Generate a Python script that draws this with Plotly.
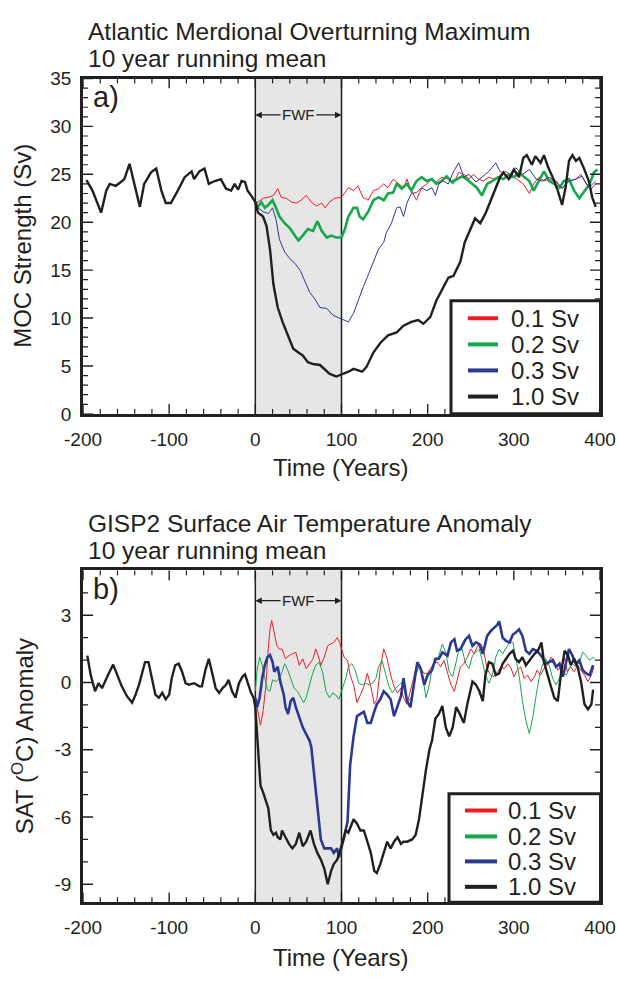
import plotly.graph_objects as go

# ---------------- Panel a: MOC strength (Sv) ----------------
a_black_years = [-196,-189,-179,-173,-169,-162,-156,-152,-146,-141,-134,-129,-121,-115,-109,-104,-98,-90,-82,-74,-71,-65,-59,-54,-47,-40,-34,-28,-24,-20,-16,-12,-9,-5,0,
                 3,9,13,17,21,26,32,38,44,50,55,61,67,75,81,86,94,100,
                 108,114,124,129,137,145,154,164,172,181,189,195,203,210,218,224,230,238,243,251,255,261,267,272,278,284,288,294,300,306,311,315,321,325,331,335,340,346,351,356,360,364,368,372,376,381,387,391,395]
a_black_vals = [24.4,23.3,21.0,23.3,24.0,23.8,24.2,24.5,26.1,24.3,21.6,24.0,25.2,25.6,23.3,22.0,22.0,23.3,24.7,25.3,24.5,25.3,25.6,24.0,24.3,24.5,23.5,23.3,24.0,23.4,24.3,24.2,23.3,22.8,22.1,
                21.0,20.6,19.6,17.2,13.5,11.1,9.5,8.1,6.8,6.4,6.1,5.4,5.2,5.1,4.6,4.2,3.9,4.1,
                4.4,4.7,4.4,4.9,6.4,7.4,8.2,8.5,9.2,9.6,9.8,9.4,10.1,11.8,13.2,14.2,14.4,15.9,17.9,19.6,20.4,19.9,20.9,22.0,23.3,24.7,25.2,24.5,25.5,24.7,26.7,27.0,26.0,26.9,26.2,27.0,25.7,24.5,23.3,21.8,23.6,26.4,27.0,26.4,26.7,25.7,24.3,22.6,21.6]

a_blue_years = [0,3,9,15,20,24,28,34,40,46,52,57,63,69,75,83,90,100,108,114,119,125,131,137,143,149,152,158,164,168,172,176,181,187,193,199,205,209,213,218,224,230,236,242,248,256,263,271,279,284,290,296,302,310,318,326,333,341,349,356,364,372,379,387,395]
a_blue_vals = [22.1,21.5,21.1,20.9,21.5,20.3,18.2,16.9,16.2,15.7,15.0,13.9,12.7,12.0,11.1,11.0,10.3,9.9,9.6,10.5,11.8,13.2,14.5,15.9,17.2,17.9,18.9,19.9,21.5,21.6,20.6,22.0,23.0,23.1,23.6,23.3,23.6,22.8,24.0,24.3,24.0,25.3,26.2,24.7,25.0,24.2,24.7,25.3,26.2,25.3,25.0,24.5,25.7,25.0,25.5,24.5,24.3,24.7,24.3,23.5,24.3,24.5,24.8,23.6,24.3]

a_red_years = [0,3,9,15,21,26,30,36,42,48,53,59,65,71,77,81,86,92,100,108,114,119,125,131,137,143,149,154,160,166,172,176,181,187,193,199,205,210,216,224,230,236,242,248,253,259,265,271,277,283,290,296,304,311,318,323,329,335,341,349,356,364,372,378,384,390,395]
a_red_vals = [22.1,22.1,22.5,22.6,22.8,23.5,22.6,22.5,22.1,22.0,22.3,22.8,22.1,21.7,22.0,21.5,22.1,22.5,22.6,23.6,23.3,23.8,22.6,22.3,23.3,23.5,24.0,23.6,24.5,24.0,23.6,24.5,23.3,22.3,23.6,24.0,24.5,24.2,24.7,24.5,24.0,25.2,25.0,24.5,25.0,24.5,24.3,24.7,24.5,24.8,25.3,25.0,24.5,24.0,23.0,24.0,24.7,24.3,24.5,24.2,23.6,24.3,24.5,25.0,24.0,23.5,24.0]

a_green_years = [0,3,7,11,15,20,24,28,34,40,46,50,55,61,67,72,77,83,88,94,100,104,108,114,118,121,125,131,137,143,149,154,160,164,170,176,181,187,193,199,205,210,216,222,228,234,240,245,251,257,263,269,275,282,288,294,300,306,311,318,323,329,335,341,347,353,358,364,370,376,382,388,393,397]
a_green_vals = [22.1,21.6,22.1,21.5,21.8,22.3,21.5,20.6,19.9,19.4,18.6,18.1,18.6,19.3,19.1,20.1,19.1,18.4,18.6,18.4,18.4,19.3,20.6,21.5,21.5,20.6,20.3,21.1,22.3,22.6,22.3,23.0,23.1,24.0,23.5,24.0,23.3,24.3,24.7,24.3,24.5,24.0,24.3,24.8,24.2,24.5,24.8,24.5,24.0,23.6,22.8,24.0,24.3,24.7,24.5,25.0,24.7,25.2,24.8,24.3,23.3,24.3,25.3,24.3,24.0,23.6,24.3,24.5,23.3,22.5,23.3,24.0,25.2,25.5]

# ---------------- Panel b: SAT anomaly (deg C) ----------------
b_black_years = [-195,-191,-186,-182,-178,-174,-170,-165,-160,-155,-149,-143,-139,-135,-131,-128,-124,-120,-116,-112,-108,-104,-100,-97,-93,-89,-85,-81,-77,-71,-65,-62,-58,-54,-50,-46,-42,-38,-34,-31,-27,-23,-19,-15,-12,-9,-5,-2,0,
                 2,4,6,9,12,15,18,21,24,26,29,31,35,39,43,47,51,55,59,64,68,72,76,80,84,88,91,95,100,
                 105,108,114,118,122,126,130,134,138,141,145,149,153,157,161,165,169,172,176,182,186,190,194,198,202,205,209,213,217,221,225,229,233,236,242,246,252,256,260,264,267,271,275,279,283,287,291,295,299,302,306,310,314,318,324,328,332,335,339,343,347,351,355,359,363,366,370,374,378,382,386,390,392]
b_black_vals = [1.2,0.33,-0.39,-0.03,-0.25,0.12,0.41,0.8,0.33,-0.17,-0.61,-0.9,-0.54,-0.1,0.48,0.91,0.91,0.19,-0.54,-0.68,-0.46,-0.75,-0.54,0.19,0.77,0.84,0.48,-0.03,-0.1,-0.03,-0.17,-0.17,0.55,1.06,0.33,-0.25,-0.46,-0.25,-0.1,0.12,-0.39,-0.68,-0.03,0.26,0.36,0.04,-0.46,-0.68,-1.1,
                -2.3,-3.4,-4.6,-4.9,-5.3,-5.6,-6.6,-6.8,-6.7,-6.9,-7.0,-6.6,-6.9,-7.2,-7.4,-7.2,-6.7,-7.3,-7.1,-6.6,-7.2,-7.6,-7.9,-8.3,-9.0,-8.4,-8.1,-7.9,-7.3,
                -6.6,-6.7,-6.1,-6.3,-6.6,-6.6,-7.1,-7.6,-8.4,-8.5,-8.1,-7.6,-7.1,-7.4,-7.1,-6.9,-7.2,-7.1,-7.1,-7.0,-6.8,-6.1,-4.9,-3.9,-3.0,-2.6,-1.6,-1.4,-1.05,-2.0,-2.4,-2.0,-1.1,-1.3,-1.8,-0.97,0.04,-0.1,-0.39,-0.83,0.33,0.91,0.84,0.33,0.41,0.84,1.06,1.28,1.42,1.06,0.91,1.13,0.77,0.99,1.28,1.42,1.79,0.91,0.33,-0.17,-0.68,-0.83,0.48,1.42,1.2,0.77,1.06,0.7,0.04,-0.97,-1.2,-0.97,-0.32]

b_blue_years = [0,2,5,8,11,14,17,20,22,26,29,33,35,38,41,44,47,51,55,59,63,65,68,71,74,76,80,84,88,91,95,97,100,103,107,109,110,114,118,122,126,130,134,138,141,145,149,153,157,161,165,169,172,176,180,184,188,192,196,200,205,209,213,217,223,227,231,234,238,244,248,252,256,260,264,269,273,277,281,283,287,291,295,299,302,306,310,314,318,322,326,330,333,337,341,345,349,353,357,361,364,368,372,376,380,384,388,392]
b_blue_vals = [-0.68,-1.1,-0.68,0.19,0.77,1.13,1.23,0.91,0.48,0.7,0.04,-0.54,-1.1,-1.4,-0.83,-0.68,-1.1,-1.55,-2.0,-2.3,-2.6,-2.9,-4.0,-5.2,-6.3,-7.0,-7.4,-7.4,-7.4,-7.6,-7.4,-7.8,-7.4,-6.9,-6.2,-4.9,-3.7,-2.4,-1.5,-1.4,-1.3,-1.8,-1.8,-1.3,-0.97,-0.75,-0.39,-0.54,-0.75,-1.5,-1.1,-0.61,0.19,-0.83,-1.1,-0.1,0.91,0.62,-0.1,0.33,0.55,1.06,1.06,1.35,1.2,1.79,1.93,1.42,1.49,1.93,2.08,1.64,1.79,1.71,1.28,2.08,2.29,2.44,2.58,2.73,2.0,1.86,1.79,2.15,2.22,2.37,2.08,1.42,1.28,1.49,1.42,1.28,1.13,0.84,0.91,0.99,0.7,0.84,0.26,0.91,1.49,1.2,0.84,0.99,0.55,0.41,0.33,0.77]

b_red_years = [0,2,4,6,9,12,15,17,19,22,25,28,31,35,39,43,47,51,55,59,63,67,70,73,76,80,84,88,91,95,98,100,103,107,110,114,118,122,126,130,134,138,141,145,149,153,157,161,165,169,172,176,180,184,188,192,196,200,203,207,211,215,219,223,227,231,234,238,242,246,250,254,258,262,265,269,273,277,281,285,289,293,297,300,304,308,312,316,320,324,327,331,335,339,343,347,351,355,359,362,366,370,374,378,382,386,390,393]
b_red_vals = [-0.68,-1.1,-1.55,-1.9,-1.26,-0.25,1.5,2.37,2.77,2.22,1.64,1.49,1.49,1.06,1.2,1.28,1.35,0.77,1.06,0.62,0.84,1.06,1.5,1.2,0.77,1.13,1.64,1.71,1.79,2.0,1.79,1.5,1.13,0.99,0.33,-0.1,-0.9,-0.54,-0.17,0.41,-0.17,-0.97,-0.75,0.62,1.5,1.06,0.33,-0.17,-0.46,-0.25,-0.68,-0.97,-0.39,0.26,0.91,0.62,0.41,0.41,0.62,0.84,0.91,0.7,0.99,0.41,-0.1,-0.39,0.04,0.7,0.84,1.13,1.5,1.28,1.64,1.71,1.42,0.62,0.33,0.26,0.48,0.7,0.62,0.84,0.62,0.26,0.55,0.7,0.19,0.33,0.04,0.26,0.55,0.33,0.62,0.77,1.13,0.99,0.55,0.7,1.06,0.48,0.7,0.48,0.77,0.55,0.33,0.04,0.33,0.7]

b_green_years = [0,2,5,8,11,14,17,20,24,28,31,34,37,41,45,49,53,56,59,62,66,70,74,78,82,86,90,93,97,100,105,108,112,116,120,124,128,132,136,140,143,147,151,155,159,163,167,171,174,178,182,186,190,194,198,202,205,209,213,217,221,225,229,233,236,240,244,248,252,256,260,264,267,271,275,279,283,287,291,295,299,302,306,310,314,318,322,326,330,333,337,341,345,349,353,357,361,364,368,372,376,380,384,388,392,394]
b_green_vals = [-0.39,0.55,1.13,0.77,0.19,-0.32,-0.39,0.12,0.04,0.19,0.48,0.84,0.62,0.19,-0.25,-0.39,-0.68,-0.9,-0.68,-0.25,0.33,0.77,0.91,0.48,-0.39,-0.68,-0.46,-0.54,-0.75,-0.39,0.19,0.7,0.84,0.55,-0.03,-0.1,-0.03,-0.1,-0.03,0.19,0.7,0.99,0.41,-0.17,-0.46,-0.25,-0.1,0.04,-0.54,-0.83,-0.61,0.33,0.7,0.33,-0.68,-0.1,0.62,0.91,1.2,1.71,1.35,0.48,0.26,0.91,1.42,1.49,0.84,0.62,1.2,1.35,1.49,0.84,0.33,-0.03,0.33,1.13,1.49,1.28,1.57,1.79,1.79,1.13,0.33,-0.83,-1.7,-2.28,-1.55,-0.54,0.33,0.77,1.06,0.77,0.19,-0.1,0.19,0.48,0.33,0.62,0.84,0.7,0.91,1.35,1.2,0.99,1.13,1.06]

# ---------------- labels / ticks ----------------
series_names = ["0.1 Sv", "0.2 Sv", "0.3 Sv", "1.0 Sv"]
series_colors = ["#ed1c24", "#13a84a", "#2b3990", "#231f20"]
x_tickvals = [-200, -100, 0, 100, 200, 300, 400]
x_ticktext = ["-200", "-100", "0", "100", "200", "300", "400"]
x_minor_step = 20
ya_tickvals = [0, 5, 10, 15, 20, 25, 30, 35]
ya_ticktext = ["0", "5", "10", "15", "20", "25", "30", "35"]
yb_tickvals = [-9, -6, -3, 0, 3]
yb_ticktext = ["-9", "-6", "-3", "0", "3"]
fwf_start, fwf_end = 0, 100

FONT = "Liberation Sans, Arial, Helvetica, sans-serif"
INK = "#231f20"
W, H = 618, 982
ML, MR = 83, 18
PW = W - ML - MR


def px_x(p):
    return (p - ML) / PW


def px_y(p):
    return 1 - p / H


fig = go.Figure()

widths_a = [1.0, 2.6, 1.0, 2.4]
data_a = [(a_red_years, a_red_vals), (a_green_years, a_green_vals),
          (a_blue_years, a_blue_vals), (a_black_years, a_black_vals)]
for (xs, ys), c, w, n in zip(data_a, series_colors, widths_a, series_names):
    fig.add_trace(go.Scatter(x=xs, y=ys, mode="lines", line=dict(color=c, width=w),
                             name=n, showlegend=False, xaxis="x", yaxis="y"))
widths_b = [1.0, 1.0, 2.6, 2.4]
data_b = [(b_red_years, b_red_vals), (b_green_years, b_green_vals),
          (b_blue_years, b_blue_vals), (b_black_years, b_black_vals)]
for (xs, ys), c, w, n in zip(data_b, series_colors, widths_b, series_names):
    fig.add_trace(go.Scatter(x=xs, y=ys, mode="lines", line=dict(color=c, width=w),
                             name=n, showlegend=False, xaxis="x2", yaxis="y2"))

# panel geometry (pixels from the top)
A_TOP, A_BOT = 70.0, 412.7
B_TOP, B_BOT = 572.7, 911.7
dom_a = [px_y(A_BOT), px_y(A_TOP)]
dom_b = [px_y(B_BOT), px_y(B_TOP)]

tickfont = dict(family=FONT, size=19, color=INK)
xcommon = dict(range=[-200, 400], tickmode="array", tickvals=x_tickvals, ticktext=x_ticktext,
               ticks="", ticklabelstandoff=6,
               showline=True, linewidth=2.7, linecolor=INK, mirror=True,
               showgrid=False, zeroline=False, fixedrange=True, tickfont=tickfont, domain=[0, 1])
ycommon = dict(ticks="", tickmode="array", ticklabelstandoff=5,
               showline=True, linewidth=2.7, linecolor=INK, mirror=True,
               showgrid=False, zeroline=False, fixedrange=True, tickfont=tickfont)

fig.update_layout(
    width=W, height=H,
    margin=dict(l=ML, r=MR, t=0, b=0),
    paper_bgcolor="white", plot_bgcolor="white",
    font=dict(family=FONT, color=INK),
    showlegend=False,
    xaxis=dict(xcommon, anchor="y"),
    yaxis=dict(ycommon, range=[0, 35], tickvals=ya_tickvals, ticktext=ya_ticktext, domain=dom_a,
               anchor="x"),
    xaxis2=dict(xcommon, anchor="y2"),
    yaxis2=dict(ycommon, range=[-9.8, 5], tickvals=yb_tickvals, ticktext=yb_ticktext, domain=dom_b,
                anchor="x2"),
)

shapes = []
for xr, yr in (("x", "y"), ("x2", "y2")):
    shapes.append(dict(type="rect", xref=xr, yref=yr + " domain", x0=fwf_start, x1=fwf_end, y0=0, y1=1,
                       fillcolor="#e6e6e6", line=dict(width=0), layer="below"))
    for xv in (fwf_start, fwf_end):
        shapes.append(dict(type="line", xref=xr, yref=yr + " domain", x0=xv, x1=xv, y0=0, y1=1,
                           line=dict(color=INK, width=1.5), layer="below"))

# inward tick marks on all four sides, placed through the axes' own scales
MAJ, MIN = 10.0, 5.0
x_minor = [v for v in range(x_tickvals[0], x_tickvals[-1] + 1, x_minor_step) if v not in x_tickvals]
panels = (("x", "y", A_BOT - A_TOP, ya_tickvals,
           [v for v in range(0, 36) if v not in ya_tickvals]),
          ("x2", "y2", B_BOT - B_TOP, yb_tickvals,
           [v for v in range(-9, 5) if v not in yb_tickvals]))
for xr, yr, hpx, ymaj, ymin in panels:
    for vals, ln, wd in ((x_tickvals, MAJ, 1.4), (x_minor, MIN, 1.2)):
        for v in vals:
            for y0, y1 in ((0, ln / hpx), (1, 1 - ln / hpx)):
                shapes.append(dict(type="line", xref=xr, yref=yr + " domain", x0=v, x1=v, y0=y0, y1=y1,
                                   line=dict(color=INK, width=wd), layer="above"))
    for vals, ln, wd in ((ymaj, MAJ, 1.4), (ymin, MIN, 1.2)):
        for v in vals:
            for x0, x1 in ((0, ln / PW), (1, 1 - ln / PW)):
                shapes.append(dict(type="line", xref=xr + " domain", yref=yr, x0=x0, x1=x1, y0=v, y1=v,
                                   line=dict(color=INK, width=wd), layer="above"))

ann = []
# legends (box, line samples, labels)
legend_specs = [
    dict(box=(451, 297, 600.5, A_BOT), rows=[315, 341.7, 368.3, 395], samp=(468, 498), text_x=509),
    dict(box=(449, 801, 600.5, B_BOT), rows=[818, 844.5, 870, 896], samp=(465, 497), text_x=506),
]
for spec in legend_specs:
    x0, y0, x1, y1 = spec["box"]
    shapes.append(dict(type="rect", xref="paper", yref="paper", x0=px_x(x0), x1=px_x(x1),
                       y0=px_y(y1), y1=px_y(y0), fillcolor="white",
                       line=dict(color=INK, width=3), layer="above"))
    for ry, c, n in zip(spec["rows"], series_colors, series_names):
        shapes.append(dict(type="line", xref="paper", yref="paper", x0=px_x(spec["samp"][0]),
                           x1=px_x(spec["samp"][1]), y0=px_y(ry), y1=px_y(ry),
                           line=dict(color=c, width=4), layer="above"))
        ann.append(dict(text=n, xref="paper", yref="paper", x=px_x(spec["text_x"]), y=px_y(ry),
                        xanchor="left", yanchor="middle", showarrow=False,
                        font=dict(family=FONT, size=24, color=INK)))
fig.update_layout(shapes=shapes)

# titles
for txt, ypx in (("Atlantic Merdional Overturning Maximum", 22), ("10 year running mean", 50),
                 ("GISP2 Surface Air Temperature Anomaly", 525), ("10 year running mean", 552)):
    ann.append(dict(text=txt, xref="paper", yref="paper", x=px_x(86), y=px_y(ypx), xanchor="left",
                    yanchor="middle", showarrow=False, font=dict(family=FONT, size=24.5, color=INK)))
# axis titles
for ypx in (467, 968):
    ann.append(dict(text="Time (Years)", xref="paper", yref="paper", x=px_x(341), y=px_y(ypx),
                    xanchor="center", yanchor="middle", showarrow=False,
                    font=dict(family=FONT, size=24, color=INK)))
ann.append(dict(text="MOC Strength (Sv)", xref="paper", yref="paper", x=px_x(23), y=px_y(241),
                xanchor="center", yanchor="middle", textangle=-90, showarrow=False,
                font=dict(family=FONT, size=24, color=INK)))
ann.append(dict(text="SAT (<sup>O</sup>C) Anomaly", xref="paper", yref="paper", x=px_x(23), y=px_y(742),
                xanchor="center", yanchor="middle", textangle=-90, showarrow=False,
                font=dict(family=FONT, size=24, color=INK)))
# panel letters
ann.append(dict(text="a)", xref="paper", yref="paper", x=px_x(91), y=px_y(89), xanchor="left",
                yanchor="middle", showarrow=False, font=dict(family=FONT, size=29, color=INK)))
ann.append(dict(text="b)", xref="paper", yref="paper", x=px_x(91), y=px_y(592), xanchor="left",
                yanchor="middle", showarrow=False, font=dict(family=FONT, size=29, color=INK)))
# FWF markers
for xr, yr, yv in (("x", "y", 31.2), ("x2", "y2", 3.65)):
    ann.append(dict(text="FWF", xref=xr, yref=yr, x=50, y=yv, showarrow=False,
                    font=dict(family=FONT, size=15, color=INK)))
    ann.append(dict(text="", xref=xr, yref=yr, x=fwf_start, y=yv, ax=31, ay=yv, axref=xr, ayref=yr,
                    showarrow=True, arrowhead=2, arrowsize=1, arrowwidth=1.3, arrowcolor=INK))
    ann.append(dict(text="", xref=xr, yref=yr, x=fwf_end, y=yv, ax=69, ay=yv, axref=xr, ayref=yr,
                    showarrow=True, arrowhead=2, arrowsize=1, arrowwidth=1.3, arrowcolor=INK))
fig.update_layout(annotations=ann)

fig.write_html("out.html")
